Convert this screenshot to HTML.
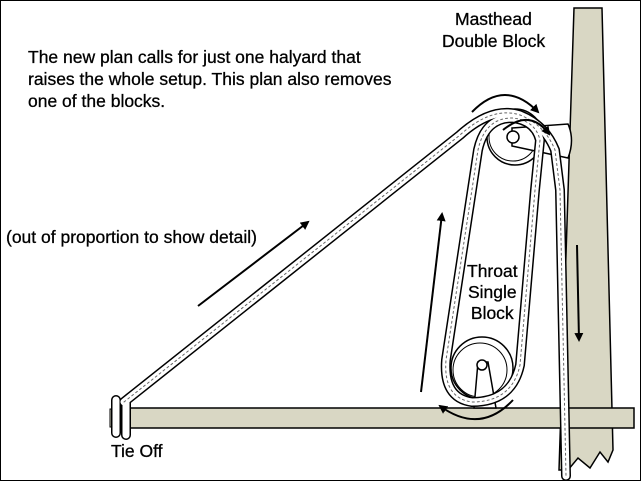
<!DOCTYPE html>
<html><head><meta charset="utf-8"><style>
html,body{margin:0;padding:0;background:#fff}
.wrap{position:relative;width:641px;height:481px;overflow:hidden}
svg{position:absolute;left:0;top:0}
.t{position:absolute;font-family:"Liberation Sans",Arial,sans-serif;font-size:17.5px;color:#000;line-height:22px;white-space:nowrap;-webkit-text-stroke:0.3px #000}
</style></head><body><div class="wrap">
<svg width="641" height="481" viewBox="0 0 641 481">
<rect x="0.5" y="0.5" width="640" height="480" fill="#fff" stroke="#000"/>
<defs>
<marker id="ah" markerWidth="9" markerHeight="9" refX="7" refY="4.5" orient="auto" markerUnits="userSpaceOnUse"><path d="M0,0 L9,4.5 L0,9 Z" fill="#000"/></marker>
</defs>
<path d="M574,8 L602,8 L613,450 L608,462 L600,452 L590,468 L578,458 L568,470 L559,470 Z" fill="#d9d7c4" stroke="#000" stroke-width="1.5"/>
<rect x="114" y="408" width="520" height="20" fill="#d9d7c4" stroke="#000" stroke-width="1.5"/>
<rect x="110" y="409" width="5" height="18" fill="#d9d7c4" stroke="#000"/>
<circle cx="515" cy="137" r="28" fill="#fff" stroke="#000" stroke-width="1.5"/>
<circle cx="513" cy="137" r="24" fill="none" stroke="#000" stroke-width="1"/>
<path d="M512,128 L568,124 Q575,140 568,158 L512,146 Z" fill="#fff" stroke="#000" stroke-width="1.5"/>
<circle cx="513" cy="137" r="6" fill="#fff" stroke="#000" stroke-width="1.5"/>
<circle cx="482" cy="368" r="31" fill="#fff" stroke="#000" stroke-width="1.5"/>
<circle cx="480" cy="370" r="27" fill="none" stroke="#000" stroke-width="1"/>
<path d="M478,362 L488,362 L496,408 L474,408 Z" fill="#fff" stroke="#000" stroke-width="1.5"/>
<circle cx="482" cy="365" r="5" fill="#fff" stroke="#000" stroke-width="1.5"/>
<g fill="none" stroke-linecap="round" stroke-linejoin="round">
<g stroke="#000" stroke-width="10">
<path d="M124,402 L460,135 Q492,106 520,115 Q545,125 555,150 L560,190 L566,476"/>
<path d="M535,190 L520,365 Q512,402 472,402 Q443,398 446,360 L478,150 Q485,118 512,118 Q535,120 540,140 Z"/>
<path d="M116,400 L116,433 M126,401 L126,435"/>
</g>
<g stroke="#fff" stroke-width="7">
<path d="M124,402 L460,135 Q492,106 520,115 Q545,125 555,150 L560,190 L566,476"/>
<path d="M535,190 L520,365 Q512,402 472,402 Q443,398 446,360 L478,150 Q485,118 512,118 Q535,120 540,140 Z"/>
<path d="M116,400 L116,433 M126,401 L126,435"/>
</g>
<g stroke="#666" stroke-width="1" stroke-dasharray="2 3">
<path d="M124,402 L460,135 Q492,106 520,115 Q545,125 555,150 L560,190 L566,476"/>
<path d="M535,190 L520,365 Q512,402 472,402 Q443,398 446,360 L478,150 Q485,118 512,118 Q535,120 540,140 Z"/>
</g>
</g>
<g stroke="#000" stroke-width="2" fill="none">
<path d="M198,306 L308,222" marker-end="url(#ah)"/>
<path d="M421,392 L442,214" marker-end="url(#ah)"/>
<path d="M577,245 L579,340" marker-end="url(#ah)"/>
<path d="M472,112 Q505,78 538,112" marker-end="url(#ah)"/>
<path d="M503,130 Q530,108 549,134" marker-end="url(#ah)"/>
<path d="M513,400 Q480,435 440,406" marker-end="url(#ah)"/>
</g>
</svg>
<div class="t" style="left:455px;top:8px">Masthead</div>
<div class="t" style="left:442px;top:30px">Double Block</div>
<div class="t" style="left:28px;top:46px">The new plan calls for just one halyard that<br>raises the whole setup. This plan also removes<br>one of the blocks.</div>
<div class="t" style="left:6px;top:226px">(out of proportion to show detail)</div>
<div class="t" style="left:467px;top:261px;line-height:21px;text-align:center">Throat<br>Single<br>Block</div>
<div class="t" style="left:111px;top:440px">Tie Off</div>
</div></body></html>
